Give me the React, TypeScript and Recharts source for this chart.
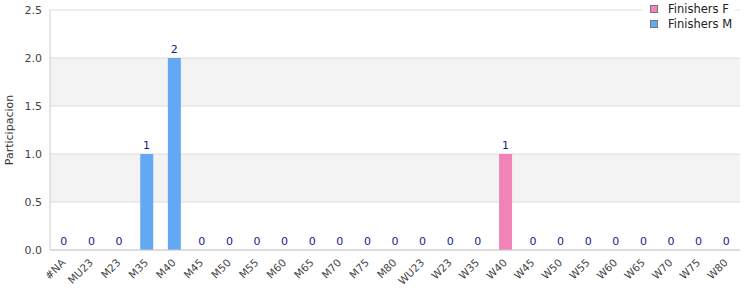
import { ComposedChart, Bar, Line, XAxis, YAxis, CartesianGrid, LabelList } from 'recharts';

const categories = [
  '#NA', 'MU23', 'M23', 'M35', 'M40', 'M45', 'M50', 'M55', 'M60', 'M65', 'M70', 'M75', 'M80',
  'WU23', 'W23', 'W35', 'W40', 'W45', 'W50', 'W55', 'W60', 'W65', 'W70', 'W75', 'W80',
];
const finishersF = [0, 0, 0, 0, 0, 0, 0, 0, 0, 0, 0, 0, 0, 0, 0, 0, 1, 0, 0, 0, 0, 0, 0, 0, 0];
const finishersM = [0, 0, 0, 1, 2, 0, 0, 0, 0, 0, 0, 0, 0, 0, 0, 0, 0, 0, 0, 0, 0, 0, 0, 0, 0];
const yTicks = [0, 0.5, 1, 1.5, 2, 2.5];

const FONT = '"DejaVu Sans", sans-serif';
const PINK = '#f283b8';
const BLUE = '#62a8f2';

const chartData = categories.map((c, i) => ({
  category: c,
  F: finishersF[i],
  M: finishersM[i],
  total: finishersF[i] + finishersM[i],
}));

function LegendBox() {
  const items = [
    { name: 'Finishers F', color: PINK },
    { name: 'Finishers M', color: BLUE },
  ];
  return (
    <div style={{ position: 'absolute', left: 642, top: 0, width: 93, height: 32, background: '#fff', padding: '1px 0 0 8px', boxSizing: 'border-box', fontFamily: FONT, fontSize: 11.5, color: '#222' }}>
      {items.map(it => (
        <div key={it.name} style={{ display: 'flex', alignItems: 'center', height: 15 }}>
          <span style={{ width: 6, height: 6, background: it.color, border: '1px solid #777', marginRight: 10 }} />
          {it.name}
        </div>
      ))}
    </div>
  );
}

export default function App() {
  return (
    <div style={{ position: 'absolute', left: 0, top: 0, width: 750, height: 300, background: '#fff' }}>
      <ComposedChart
        width={750}
        height={300}
        data={chartData}
        margin={{ top: 10, right: 10, left: 0, bottom: 0 }}
        barCategoryGap="27%"
      >
        <CartesianGrid vertical={false} stroke="#dddddd" horizontalFill={['#ffffff', '#f3f3f3']} />
        <XAxis
          dataKey="category"
          interval={0}
          angle={-45}
          textAnchor="end"
          height={50}
          tickLine={false}
          axisLine={{ stroke: '#cccccc' }}
          tick={{ fill: '#444', fontSize: 10.5, fontFamily: FONT, dx: -3, dy: 0 }}
        />
        <YAxis
          domain={[0, 2.5]}
          ticks={yTicks}
          width={50}
          tickLine={false}
          axisLine={{ stroke: '#cccccc' }}
          tickFormatter={(v: number) => v.toFixed(1)}
          tick={{ fill: '#444', fontSize: 11, fontFamily: FONT }}
          label={{ value: 'Participacion', angle: -90, position: 'insideLeft', dx: 4, dy: 0, style: { fill: '#333', fontSize: 11, fontFamily: FONT, textAnchor: 'middle' } }}
        />
        <YAxis yAxisId="right" orientation="right" width={0} tick={false} tickLine={false} axisLine={{ stroke: '#dddddd' }} />
        <Bar dataKey="F" stackId="a" fill={PINK} isAnimationActive={false} />
        <Bar dataKey="M" stackId="a" fill={BLUE} isAnimationActive={false} />
        <Line dataKey="total" stroke="none" dot={false} activeDot={false} isAnimationActive={false}>
          <LabelList dataKey="total" position="top" fill="#1a1a8c" fontSize={11} fontFamily={FONT} offset={5} />
        </Line>
      </ComposedChart>
      <LegendBox />
    </div>
  );
}
